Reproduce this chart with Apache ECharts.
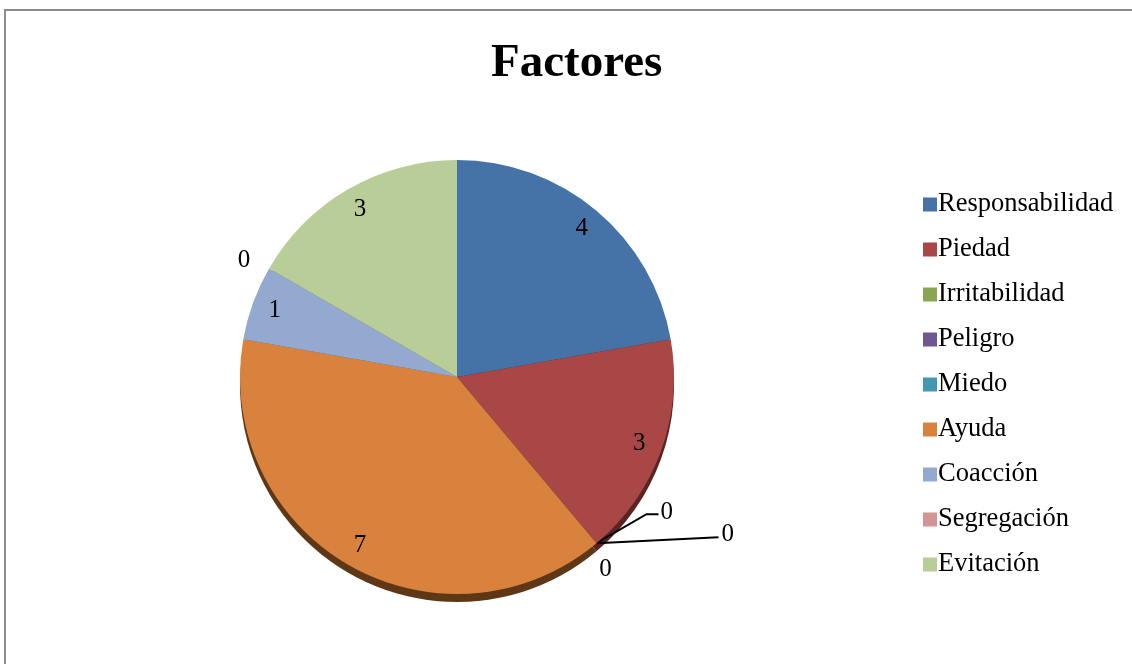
<!DOCTYPE html>
<html>
<head>
<meta charset="utf-8">
<script src="https://cdn.jsdelivr.net/npm/echarts@6/dist/echarts.min.js"></script>
<style>
  html, body { margin: 0; padding: 0; background: #fff; }
  #main { width: 1132px; height: 664px; }
</style>
</head>
<body>
<div id="main"></div>
<script>
// datos del grafico
var categories = ['Responsabilidad', 'Piedad', 'Irritabilidad', 'Peligro', 'Miedo', 'Ayuda', 'Coacción', 'Segregación', 'Evitación'];
var values = [4, 3, 0, 0, 0, 7, 1, 0, 3];
var colors = ['#4673a7', '#a84745', '#88a54f', '#6f5792', '#4198af', '#d8823e', '#94a9d0', '#d29494', '#b8cd97'];
var baseColors = ['#233a55', '#5a2422', '#445228', '#382c49', '#214c58', '#5e3816', '#4a5568', '#694a4a', '#5c664b'];

var serif = '"Liberation Serif", "Times New Roman", serif';
var CX = 457, CY = 377, R = 217;

// donde van las etiquetas de los ceros (desplazamiento desde el borde del sector)
var zeroLabels = {
    2: { dx: 64, dy: -31, align: 'left', line: [[50, -29], [62, -29]] },
    3: { dx: 125, dy: -9, align: 'left', line: [[122, -6]] },
    4: { dx: 9, dy: 26, align: 'center' },
    7: { dx: -25, dy: -8, align: 'center' }
};

var total = values.reduce(function (a, b) { return a + b; }, 0);
function edgePoint(i) {
    var before = 0;
    for (var k = 0; k < i; k++) before += values[k];
    var a = before / total * Math.PI * 2;
    return [CX + R * Math.sin(a), CY - R * Math.cos(a)];
}

var myChart = echarts.init(document.getElementById('main'));

var mainData = categories.map(function (name, i) {
    var z = zeroLabels[i];
    return {
        name: name,
        value: values[i],
        itemStyle: { color: colors[i] },
        label: { show: values[i] === 0 },
        labelLine: { show: !!(z && z.line) }
    };
});
var baseData = categories.map(function (name, i) {
    return { name: name, value: values[i], itemStyle: { color: baseColors[i] } };
});
var labelData = categories.map(function (name, i) {
    return { name: name, value: values[i] };
});

var option = {
    animation: false,
    backgroundColor: '#fff',
    title: {
        text: 'Factores',
        left: 486,
        top: 35,
        textStyle: { fontFamily: serif, fontSize: 47, fontWeight: 'bold', color: '#000' }
    },
    legend: {
        orient: 'vertical',
        left: 918,
        top: 186,
        icon: 'rect',
        itemWidth: 14,
        itemHeight: 14,
        itemGap: 18,
        data: categories,
        textStyle: { fontFamily: serif, fontSize: 26.5, color: '#000', padding: [0, 0, 0, -4] }
    },
    graphic: [{
        type: 'rect',
        z: -10,
        shape: { x: 5, y: 10, width: 1300, height: 900 },
        style: { fill: 'none', stroke: '#8c8c8c', lineWidth: 2 }
    }],
    series: [
        {
            name: 'Factores',
            type: 'pie',
            z: 3,
            center: [CX, CY],
            radius: [0, R],
            startAngle: 90,
            data: mainData,
            label: {
                position: 'outside',
                fontFamily: serif,
                fontSize: 25,
                color: '#000',
                formatter: '{c}'
            },
            labelLine: { length: 12, length2: 40, lineStyle: { color: '#000', width: 2 } },
            labelLayout: function (p) {
                var z = zeroLabels[p.dataIndex];
                if (!z) return {};
                var e = edgePoint(p.dataIndex);
                var out = {
                    x: e[0] + z.dx,
                    y: e[1] + z.dy,
                    align: z.align,
                    verticalAlign: 'middle',
                    moveOverlap: false
                };
                if (z.line) {
                    out.labelLinePoints = [e].concat(z.line.map(function (d) { return [e[0] + d[0], e[1] + d[1]]; }));
                }
                return out;
            },
            emphasis: { scale: false }
        },
        {
            name: 'base',
            type: 'pie',
            z: 1,
            silent: true,
            center: [CX, CY + 8],
            radius: [0, R],
            startAngle: 90,
            data: baseData,
            label: { show: false },
            labelLine: { show: false }
        },
        {
            name: 'etiquetas',
            type: 'pie',
            z: 4,
            silent: true,
            center: [CX, CY],
            radius: [0, R * 1.76],
            startAngle: 90,
            data: labelData,
            itemStyle: { color: 'rgba(0,0,0,0)' },
            label: {
                show: true,
                position: 'inside',
                fontFamily: serif,
                fontSize: 25,
                color: '#000',
                formatter: function (p) { return p.value === 0 ? '' : String(p.value); }
            },
            labelLine: { show: false }
        }
    ]
};

myChart.setOption(option);
</script>
</body>
</html>
